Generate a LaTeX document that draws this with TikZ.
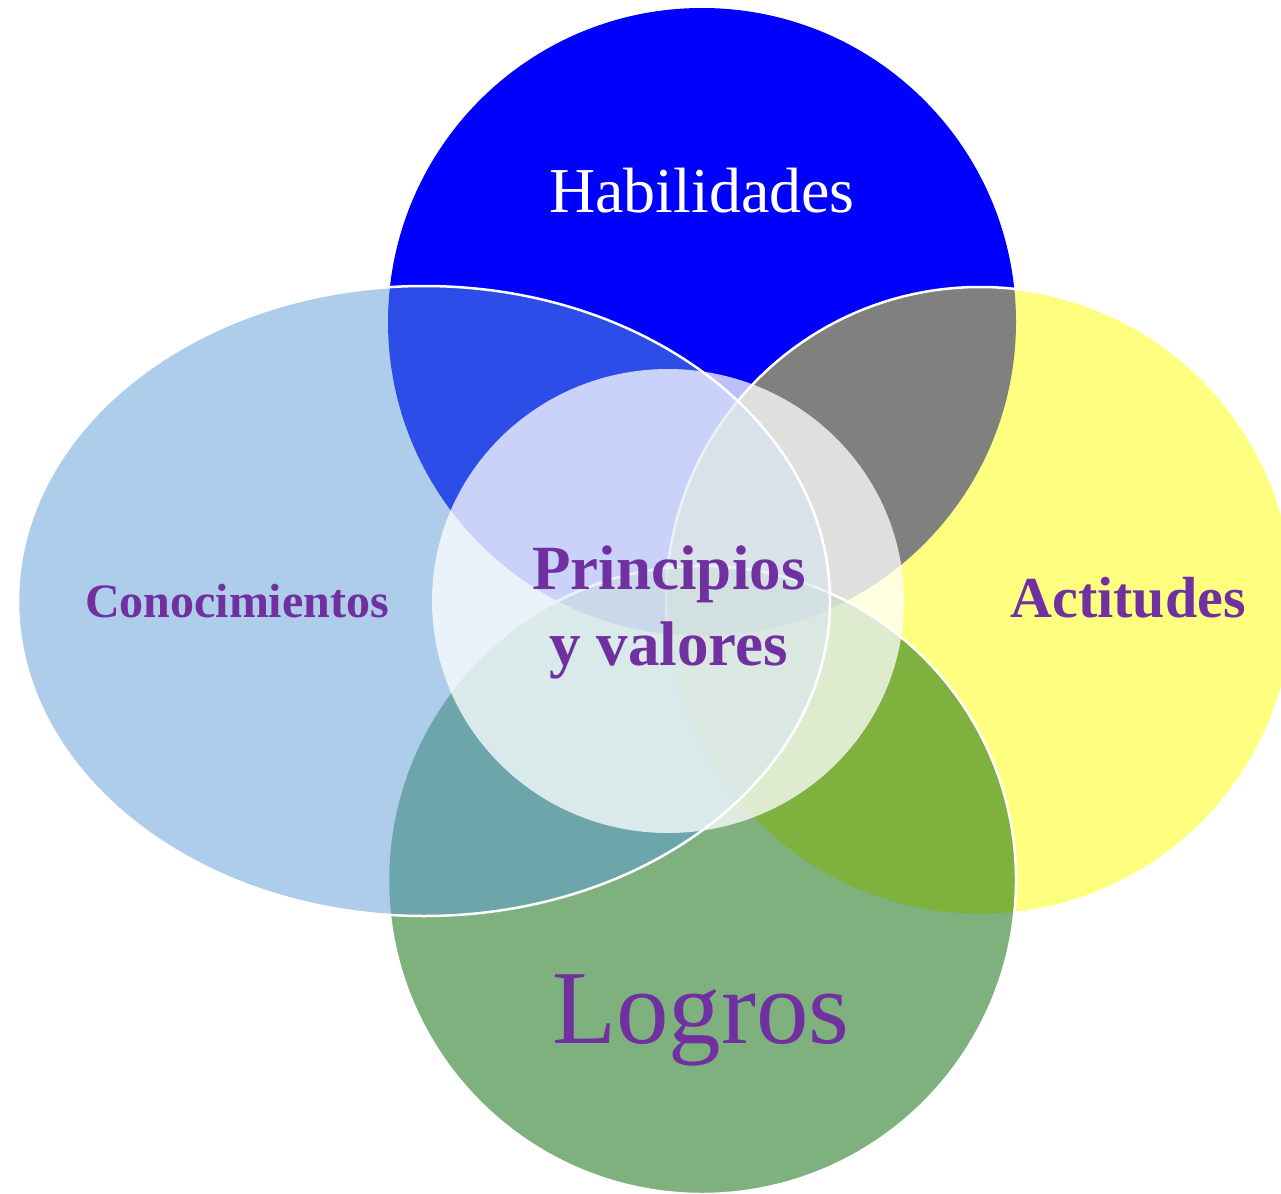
\documentclass[tikz,border=0pt]{standalone}
\usepackage{fontspec}
\setmainfont{Liberation Serif}
\definecolor{azul}{RGB}{0,0,255}
\definecolor{amarillo}{RGB}{255,255,0}
\definecolor{celeste}{RGB}{91,155,213}
\definecolor{verde}{RGB}{0,100,0}
\definecolor{lila}{RGB}{112,48,160}

\begin{document}
\begin{tikzpicture}[x=1pt,y=-1pt]
  \tikzset{petal/.style={draw=white,line width=2.5pt,fill opacity=0.5},
    lbl/.style={text=lila,anchor=base,inner sep=0pt}}
  \useasboundingbox (0,0) rectangle (1281,1193);
  \clip (0,0) rectangle (1281,1193);
  \fill[azul] (702,322) circle (314);
  \path[petal,fill=amarillo] (980,601) circle (314);
  \path[petal,fill=verde] (702,880) circle (314);
  \path[petal,fill=celeste] (424,601) ellipse (406 and 315);
  \fill[white,fill opacity=0.75] (668,601) ellipse (236 and 232);
  \node(hab)[lbl,text=white,font=\fontsize{64}{70}\selectfont] at (702,212) {Habilidades};
  \node(con)[lbl,font=\fontsize{48}{54}\selectfont\bfseries] at (237,617) {Conocimientos};
  \node(act)[lbl,font=\fontsize{58}{64}\selectfont\bfseries] at (1128,617) {Actitudes};
  \node(prin)[text=lila,align=center,inner sep=0pt,font=\fontsize{63}{76}\selectfont\bfseries] at (669,612) {Principios\\y valores};
  \node(log)[lbl,font=\fontsize{105}{110}\selectfont] at (701,1043) {Logros};
\end{tikzpicture}
\end{document}
